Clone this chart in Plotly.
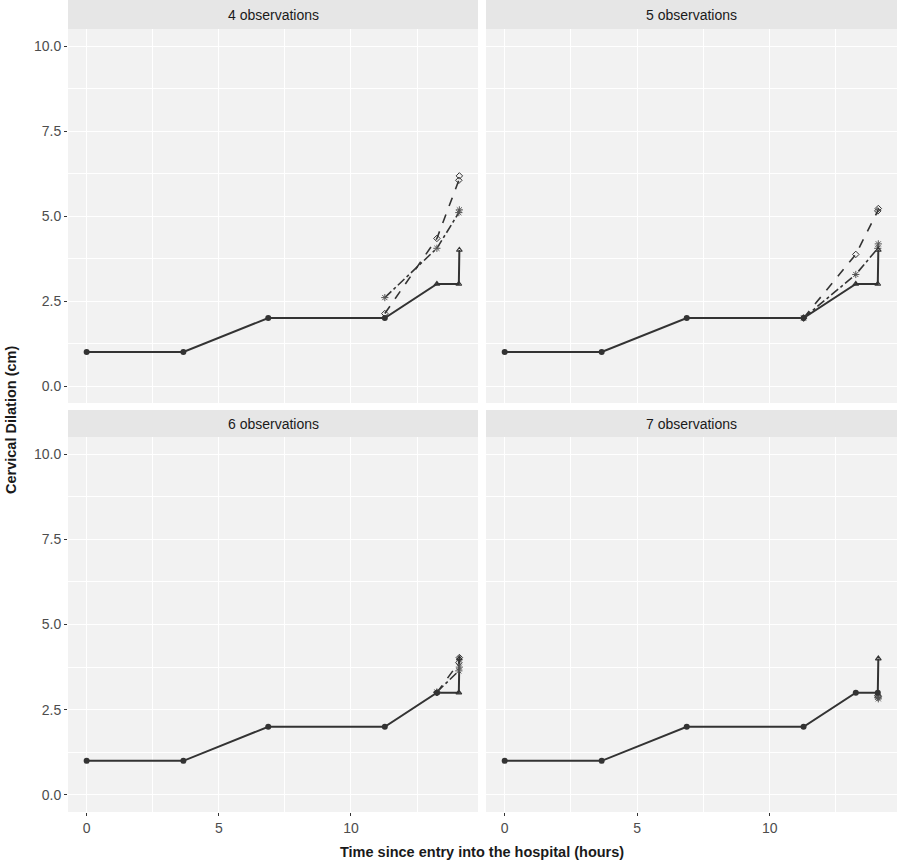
import plotly.graph_objects as go

# ---------------- data ----------------
panel_titles = ["4 observations", "5 observations", "6 observations", "7 observations"]

obs_time = [0, 3.66, 6.87, 11.28, 13.25, 14.08, 14.1]
obs_dil = [1, 1, 2, 2, 3, 3, 4]

# number of leading points drawn as filled circles in each panel
n_used = [4, 4, 5, 6]

# predictions (model A: dashed, open diamonds; model B: dash-dot, asterisks)
predA_time = [
    [11.28, 13.25, 14.08, 14.1],
    [11.28, 13.25, 14.08, 14.1],
    [13.25, 14.08, 14.1],
    [14.08, 14.1],
]
predA_dil = [
    [2.13, 4.34, 6.05, 6.18],
    [2.0, 3.87, 5.15, 5.22],
    [3.0, 3.88, 4.03],
    [2.92, 2.88],
]
predB_time = [
    [11.28, 13.25, 14.08, 14.1],
    [11.28, 13.25, 14.08, 14.1],
    [13.25, 14.08, 14.1],
    [14.08, 14.1],
]
predB_dil = [
    [2.6, 4.05, 5.1, 5.18],
    [2.0, 3.28, 4.05, 4.18],
    [3.02, 3.64, 3.75],
    [2.86, 2.82],
]

x_ticks = [0, 5, 10]
y_ticks = [0, 2.5, 5, 7.5, 10]
y_tick_labels = ["0.0", "2.5", "5.0", "7.5", "10.0"]

# ---------------- figure ----------------
W, H = 900, 863
fig = go.Figure()

dark = "#333333"
axes_ids = ["", "2", "3", "4"]

for i in range(4):
    ax = axes_ids[i]
    xa, ya = "x" + ax, "y" + ax
    n = n_used[i]
    fig.add_trace(go.Scatter(x=obs_time, y=obs_dil, mode="lines",
                             line=dict(color=dark, width=2), xaxis=xa, yaxis=ya,
                             showlegend=False, hoverinfo="skip"))
    fig.add_trace(go.Scatter(x=predA_time[i], y=predA_dil[i], mode="lines+markers",
                             line=dict(color=dark, width=1.6, dash="dash"),
                             marker=dict(symbol="diamond-open", size=5,
                                         color=dark, line=dict(width=1, color=dark)),
                             xaxis=xa, yaxis=ya, showlegend=False))
    fig.add_trace(go.Scatter(x=predB_time[i], y=predB_dil[i], mode="lines+markers",
                             line=dict(color=dark, width=1.6, dash="dashdot"),
                             marker=dict(symbol="asterisk-open", size=6,
                                         color="#555555", line=dict(width=1, color="#555555")),
                             xaxis=xa, yaxis=ya, showlegend=False))
    fig.add_trace(go.Scatter(x=obs_time[n:], y=obs_dil[n:], mode="markers",
                             marker=dict(symbol="triangle-up-open", size=5, color=dark,
                                         line=dict(width=1.2, color=dark)),
                             xaxis=xa, yaxis=ya, showlegend=False))
    fig.add_trace(go.Scatter(x=obs_time[:n], y=obs_dil[:n], mode="markers",
                             marker=dict(symbol="circle", size=6, color=dark),
                             xaxis=xa, yaxis=ya, showlegend=False))

# panel geometry (pixels)
xl = [(68, 478), (486, 897)]
yt = [(29, 403), (437, 812)]
strips = [(0, 29), (410, 437)]

def px_x(a, b):
    return [a / W, b / W]

def px_y(top, bottom):
    return [(H - bottom) / H, (H - top) / H]

layout = dict(
    width=W, height=H,
    margin=dict(l=0, r=0, t=0, b=0),
    paper_bgcolor="white",
    plot_bgcolor="#F2F2F2",
    font=dict(family="Liberation Sans, Arial, sans-serif", color="#4D4D4D", size=14),
    showlegend=False,
)

for i in range(4):
    r, c = divmod(i, 2)
    ax = axes_ids[i]
    layout["xaxis" + ax] = dict(
        domain=px_x(*xl[c]), anchor="y" + ax,
        range=[-0.705, 14.805], tickvals=x_ticks,
        showticklabels=(r == 1), ticks="outside" if r == 1 else "",
        ticklen=3, tickcolor="#333333", tickwidth=1,
        showgrid=True, gridcolor="white", gridwidth=1.2,
        minor=dict(tickvals=[2.5, 7.5, 12.5], showgrid=True, gridcolor="white", gridwidth=0.5, ticks=""),
        zeroline=False, showline=False,
        tickfont=dict(size=14, color="#4D4D4D"),
    )
    layout["yaxis" + ax] = dict(
        domain=px_y(*yt[r]), anchor="x" + ax,
        range=[-0.5, 10.5], tickvals=y_ticks, ticktext=y_tick_labels,
        showticklabels=(c == 0), ticks="outside" if c == 0 else "",
        ticklen=3, tickcolor="#333333", tickwidth=1,
        showgrid=True, gridcolor="white", gridwidth=1.2,
        minor=dict(tickvals=[1.25, 3.75, 6.25, 8.75], showgrid=True, gridcolor="white", gridwidth=0.5, ticks=""),
        zeroline=False, showline=False,
        tickfont=dict(size=14, color="#4D4D4D"),
    )

shapes = []
annotations = []
for i in range(4):
    r, c = divmod(i, 2)
    x0, x1 = xl[c]
    s0, s1 = strips[r]
    shapes.append(dict(type="rect", xref="paper", yref="paper",
                       x0=x0 / W, x1=x1 / W, y0=(H - s1) / H, y1=(H - s0) / H,
                       fillcolor="#E6E6E6", line=dict(width=0), layer="below"))
    annotations.append(dict(text=panel_titles[i], xref="paper", yref="paper",
                            x=(x0 + x1) / 2 / W, y=(H - (s0 + s1) / 2) / H,
                            showarrow=False, xanchor="center", yanchor="middle",
                            font=dict(size=14, color="#1A1A1A")))

annotations.append(dict(text="<b>Time since entry into the hospital (hours)</b>",
                        xref="paper", yref="paper", x=482 / W, y=(H - 852) / H,
                        showarrow=False, xanchor="center", yanchor="middle",
                        font=dict(size=14.5, color="#1A1A1A")))
annotations.append(dict(text="<b>Cervical Dilation (cm)</b>",
                        xref="paper", yref="paper", x=11 / W, y=(H - 420) / H,
                        showarrow=False, xanchor="center", yanchor="middle", textangle=-90,
                        font=dict(size=14.5, color="#1A1A1A")))

layout["shapes"] = shapes
layout["annotations"] = annotations
fig.update_layout(**layout)

fig.write_html("out.html", config={"displayModeBar": False},
               post_script="document.body.style.margin='0';")
